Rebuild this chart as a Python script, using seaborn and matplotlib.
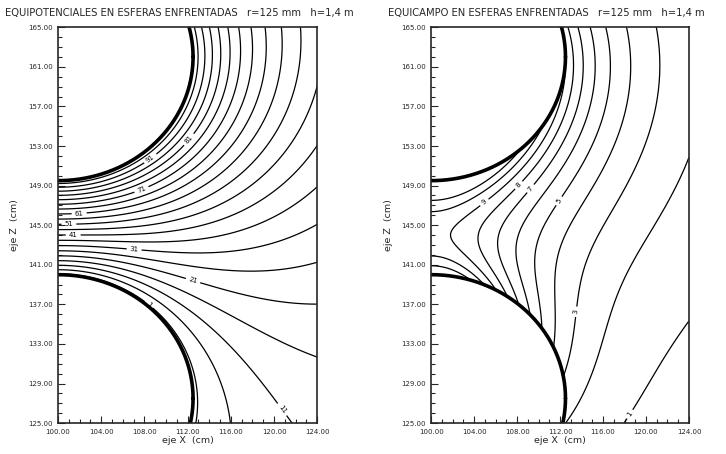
import numpy as np
import pandas as pd
import seaborn as sns
import matplotlib
matplotlib.use("Agg")
import matplotlib.pyplot as plt
from matplotlib.ticker import MultipleLocator, FormatStrFormatter

# spheres (cm): upper one charged, lower one grounded
sphere_x = [100.0, 100.0]
sphere_z = [162.0, 127.5]
sphere_r = [12.5, 12.5]
sphere_v = [100.0, 0.0]

# contour levels
pot_levels = [1, 6, 11, 16, 21, 26, 31, 36, 41, 46, 51, 56, 61, 66, 71, 76, 81, 86, 91, 96]
pot_labels = [1, 11, 21, 31, 41, 51, 61, 71, 81, 91]
field_levels = [1, 2, 3, 4, 5, 6, 7, 8, 9, 10, 11]
field_labels = [1, 3, 5, 7, 8, 9]

x_ticks = [100, 104, 108, 112, 116, 120, 124]
z_ticks = [125, 129, 133, 137, 141, 145, 149, 153, 157, 161, 165]

titles = ["EQUIPOTENCIALES EN ESFERAS ENFRENTADAS   r=125 mm   h=1,4 m",
          "EQUICAMPO EN ESFERAS ENFRENTADAS   r=125 mm   h=1,4 m"]


# image charges along the axis (two-sphere problem)
def image_charges(n_iter=40):
    qs, zs = [], []
    new = [[], []]
    for i in range(2):
        if sphere_v[i] != 0:
            new[i].append((sphere_z[i], sphere_v[i] * sphere_r[i]))
    for _ in range(n_iter):
        nxt = [[], []]
        for i in range(2):
            j = 1 - i
            for z0, q in new[i]:
                qs.append(q); zs.append(z0)
                d = z0 - sphere_z[j]
                nxt[j].append((sphere_z[j] + sphere_r[j] ** 2 / d,
                               -q * sphere_r[j] / abs(d)))
        new = nxt
    return np.array(zs), np.array(qs)


zq, qq = image_charges()
xs = np.linspace(x_ticks[0], x_ticks[-1], 481)
zz = np.linspace(z_ticks[0], z_ticks[-1], 801)
X, Z = np.meshgrid(xs, zz)
R = X - sphere_x[0]
V = np.zeros_like(X); Er = np.zeros_like(X); Ez = np.zeros_like(X)
for z0, q in zip(zq, qq):
    d3 = (R ** 2 + (Z - z0) ** 2) ** 1.5
    V += q / np.sqrt(R ** 2 + (Z - z0) ** 2)
    Er += q * R / d3
    Ez += q * (Z - z0) / d3
E = np.hypot(Er, Ez)
inside = np.zeros_like(X, dtype=bool)
for cx, cz, r in zip(sphere_x, sphere_z, sphere_r):
    inside |= (X - cx) ** 2 + (Z - cz) ** 2 < r ** 2
V[inside] = np.nan
E[inside] = np.nan

sns.set_theme(style="ticks")
plt.rcParams['font.family'] = ['DejaVu Sans']
fig = plt.figure(figsize=(7.26, 4.54), dpi=100)
ax1 = fig.add_axes([0.080, 0.068, 0.357, 0.872])
ax2 = fig.add_axes([0.594, 0.068, 0.355, 0.872])

# sphere outlines
t = np.linspace(0, 2 * np.pi, 721)
outline = pd.concat([pd.DataFrame({"x": cx + r * np.cos(t), "z": cz + r * np.sin(t), "s": k})
                     for k, (cx, cz, r) in enumerate(zip(sphere_x, sphere_z, sphere_r))])

for ax, F, lev, lab, title, x0 in [(ax1, V, pot_levels, pot_labels, titles[0], 0.007),
                                    (ax2, E, field_levels, field_labels, titles[1], 0.534)]:
    cs = ax.contour(X, Z, F, levels=lev, colors="black", linewidths=0.9)
    ax.clabel(cs, levels=[l for l in lab if l in lev], fmt="%d", fontsize=5, inline=True,
              inline_spacing=3)
    sns.lineplot(data=outline, x="x", y="z", units="s", estimator=None, sort=False,
                 color="black", linewidth=2.6, ax=ax)
    ax.set_xlim(x_ticks[0], x_ticks[-1])
    ax.set_ylim(z_ticks[0], z_ticks[-1])
    ax.set_xticks(x_ticks)
    ax.set_yticks(z_ticks)
    ax.xaxis.set_minor_locator(MultipleLocator(1))
    ax.yaxis.set_minor_locator(MultipleLocator(1))
    ax.xaxis.set_major_formatter(FormatStrFormatter("%.2f"))
    ax.yaxis.set_major_formatter(FormatStrFormatter("%.2f"))
    ax.tick_params(which="both", direction="in", width=0.8, labelsize=5, pad=4)
    ax.tick_params(which="major", length=5)
    ax.tick_params(which="minor", length=3)
    for s in ax.spines.values():
        s.set_linewidth(1.2)
        s.set_visible(True)
    ax.set_xlabel("eje X  (cm)", fontsize=6.8, labelpad=1)
    ax.set_ylabel("eje Z  (cm)", fontsize=6.8, labelpad=6)
    fig.text(x0, 0.972, title, fontsize=7.2, ha="left", va="center")

fig.savefig("out.png", dpi=100)
